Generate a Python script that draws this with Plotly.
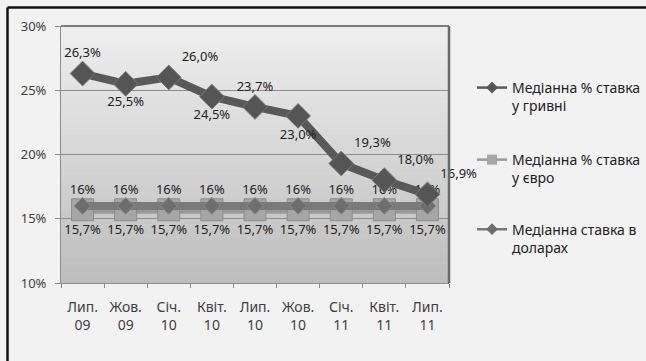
import plotly.graph_objects as go

categories = ["Лип.<br>09", "Жов.<br>09", "Січ.<br>10", "Квіт.<br>10", "Лип.<br>10",
              "Жов.<br>10", "Січ.<br>11", "Квіт.<br>11", "Лип.<br>11"]
uah = [26.3, 25.5, 26.0, 24.5, 23.7, 23.0, 19.3, 18.0, 16.9]
eur = [15.7, 15.7, 15.7, 15.7, 15.7, 15.7, 15.7, 15.7, 15.7]
usd = [16, 16, 16, 16, 16, 16, 16, 16, 16]
y_ticks = [10, 15, 20, 25, 30]

uah_pos = ["top center", "bottom center", "top right", "bottom center", "top center",
           "bottom center", "top right", "top right", "top right"]

FONT = "Noto Sans"
TXT = "#404040"

fig = go.Figure()

# gradient background for plot area
n = 40
top = (238, 238, 238)
bot = (190, 190, 190)
for i in range(n):
    t = i / (n - 1)
    c = tuple(round(bot[k] + (top[k] - bot[k]) * t) for k in range(3))
    fig.add_shape(type="rect", xref="x domain", yref="y domain",
                  x0=0, x1=1, y0=i / n, y1=(i + 1) / n + 0.002,
                  fillcolor="rgb(%d,%d,%d)" % c, line_width=0, layer="below")

series = [
    dict(y=eur, name="Медіанна % ставка<br>у євро", lc="#9a9a9a", sym="square", size=22,
         mc="#a6a6a6", ml="#8c8c8c", text=[f"{v:.1f}%".replace(".", ",") for v in eur],
         pos="bottom center", leg="legend2", lsize=10),
    dict(y=usd, name="Медіанна ставка в<br>доларах", lc="#7a7a7a", sym="diamond", size=13,
         mc="#6e6e6e", ml="#8a8a8a", text=[f"{v:g}%" for v in usd],
         pos="top center", leg="legend3", lsize=9),
    dict(y=uah, name="Медіанна % ставка<br>у гривні", lc="#595959", sym="diamond", size=19,
         mc="#555555", ml="#777777", text=[f"{v:.1f}%".replace(".", ",") for v in uah],
         pos=uah_pos, leg="legend", lsize=9),
]

for s in series:
    fig.add_trace(go.Scatter(
        x=categories, y=s["y"], mode="lines+markers+text", name=s["name"],
        line=dict(color=s["lc"], width=8),
        marker=dict(symbol=s["sym"], size=s["size"], color=s["mc"], line=dict(color=s["ml"], width=1)),
        text=s["text"], textposition=s["pos"], cliponaxis=False,
        textfont=dict(family=FONT, size=13, color="#222"), showlegend=False))
    # legend entry with thin line / small marker
    fig.add_trace(go.Scatter(
        x=[None], y=[None], mode="lines+markers", name=s["name"],
        line=dict(color=s["lc"], width=2.5),
        marker=dict(symbol=s["sym"], size=s["lsize"], color=s["mc"]),
        legend=s["leg"], showlegend=True))

leg = dict(font=dict(family=FONT, size=14, color="#222"), bgcolor="rgba(0,0,0,0)",
           xref="container", yref="container",
           xanchor="left", yanchor="top", valign="top", itemwidth=30)

fig.update_layout(
    width=646, height=361,
    margin=dict(l=61, r=197, t=26, b=78, autoexpand=False),
    paper_bgcolor="#f2f2f2", plot_bgcolor="rgba(0,0,0,0)",
    showlegend=True,
    legend=dict(leg, x=0.7307, y=0.8006),
    legend2=dict(leg, x=0.7307, y=0.601),
    legend3=dict(leg, x=0.7307, y=0.4083),
    xaxis=dict(type="category", showgrid=False, showline=True, linecolor="#8c8c8c", linewidth=1,
               ticks="outside", tickson="boundaries", ticklen=4, tickcolor="#8c8c8c",
               tickfont=dict(family=FONT, size=14, color=TXT), ticklabelstandoff=11,
               mirror=False, range=[-0.5, 8.5]),
    yaxis=dict(range=[10, 30], tickvals=y_ticks, ticktext=[f"{v}%" for v in y_ticks],
               showgrid=True, gridcolor="#8c8c8c", gridwidth=1, showline=True, linecolor="#8c8c8c",
               ticks="outside", ticklen=5, tickcolor="#8c8c8c", zeroline=False,
               tickfont=dict(family=FONT, size=13, color=TXT), ticklabelstandoff=6),
)

# plot frame: top and right darker edges
fig.add_shape(type="line", xref="x domain", yref="y domain", x0=0, x1=1, y0=1, y1=1,
              line=dict(color="#555555", width=1.5))
fig.add_shape(type="line", xref="x domain", yref="y domain", x0=1, x1=1, y0=0, y1=1,
              line=dict(color="#6a6a6a", width=2.5))

# outer border (top and left)
fig.add_shape(type="line", xref="paper", yref="paper", x0=-0.1379, x1=1.508, y0=1.072, y1=1.072,
              line=dict(color="#111", width=2.5))
fig.add_shape(type="line", xref="paper", yref="paper", x0=-0.1379, x1=-0.1379, y0=-0.3035, y1=1.072,
              line=dict(color="#111", width=2.5))

fig.write_html("out.html")
